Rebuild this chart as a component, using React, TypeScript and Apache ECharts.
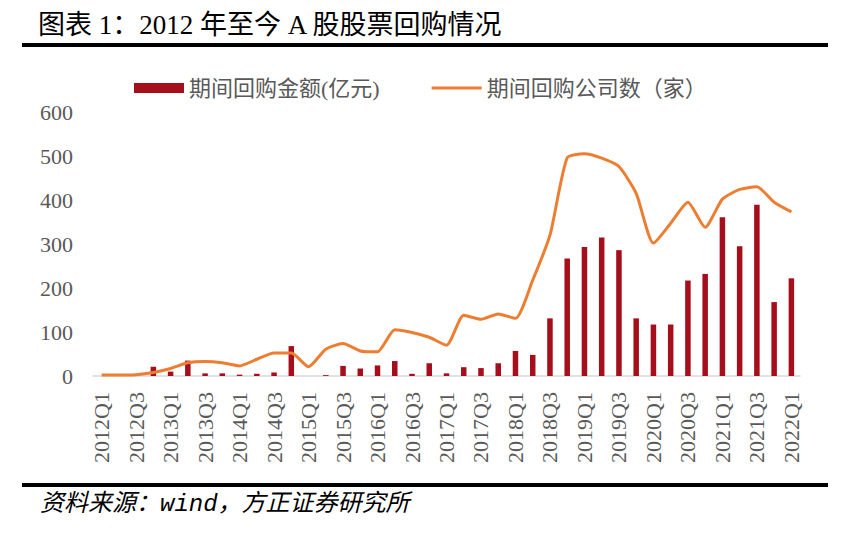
import React, { useEffect, useRef } from "react";
import * as echarts from "echarts";

const quarters = [
  "2012Q1","2012Q2","2012Q3","2012Q4",
  "2013Q1","2013Q2","2013Q3","2013Q4",
  "2014Q1","2014Q2","2014Q3","2014Q4",
  "2015Q1","2015Q2","2015Q3","2015Q4",
  "2016Q1","2016Q2","2016Q3","2016Q4",
  "2017Q1","2017Q2","2017Q3","2017Q4",
  "2018Q1","2018Q2","2018Q3","2018Q4",
  "2019Q1","2019Q2","2019Q3","2019Q4",
  "2020Q1","2020Q2","2020Q3","2020Q4",
  "2021Q1","2021Q2","2021Q3","2021Q4",
  "2022Q1",
];

const buybackAmount = [
  0, 0, 0, 21,
  10, 35, 6, 6,
  3, 5, 8, 68,
  0, 2, 23, 17,
  24, 34, 5, 29,
  6, 20, 18, 29,
  57, 48, 131, 267,
  293, 315, 286, 131,
  117, 117, 217, 232,
  361, 295, 389, 168,
  222,
];

const companyCount = [
  2, 2, 3, 8,
  17, 30, 33, 30,
  23, 38, 52, 52,
  21, 61, 74, 57,
  55, 105, 99, 88,
  70, 138, 129, 141,
  131, 218, 320, 496,
  505, 495, 476, 415,
  302, 347, 395, 338,
  402, 424, 430, 395,
  373,
];

const yTicks = { min: 0, max: 600, interval: 100 };

const titleText = "图表 1：2012 年至今 A 股股票回购情况";
const sourceText = "资料来源：wind，方正证券研究所";
const amountName = "期间回购金额(亿元)";
const countName = "期间回购公司数（家）";

const serif = "'Liberation Serif', 'Times New Roman', 'Noto Sans CJK SC', serif";
const gray = "#595959";

export default function App() {
  const ref = useRef<HTMLDivElement>(null);

  useEffect(() => {
    if (!ref.current) return;
    const chart = echarts.init(ref.current, undefined, { renderer: "svg" });
    chart.setOption({
      animation: false,
      backgroundColor: "#ffffff",
      grid: { left: 93, right: 42, top: 112, bottom: 164 },
      legend: {
        left: 129,
        top: 72,
        itemWidth: 50,
        itemHeight: 10,
        itemGap: 52,
        textStyle: { fontSize: 22, color: gray, fontFamily: serif },
        data: [
          { name: amountName, icon: "rect" },
          { name: countName, icon: "path://M0,0 L50,0 L50,3 L0,3 Z" },
        ],
      },
      xAxis: {
        type: "category",
        data: quarters,
        boundaryGap: true,
        axisLine: { show: true, lineStyle: { color: "#D9D9D9", width: 1.5 } },
        axisTick: { show: false },
        axisLabel: {
          interval: 1,
          rotate: 90,
          margin: 16,
          fontSize: 22,
          color: gray,
          fontFamily: serif,
        },
      },
      yAxis: {
        type: "value",
        min: yTicks.min,
        max: yTicks.max,
        interval: yTicks.interval,
        axisLine: { show: false },
        axisTick: { show: false },
        splitLine: { show: false },
        axisLabel: { margin: 20, fontSize: 22, color: gray, fontFamily: serif },
      },
      series: [
        {
          name: amountName,
          type: "bar",
          data: buybackAmount,
          barWidth: 5.5,
          itemStyle: { color: "#A50E1B" },
        },
        {
          name: countName,
          type: "line",
          data: companyCount,
          symbol: "none",
          smooth: 0.2,
          lineStyle: { color: "#ED7D31", width: 3 },
          itemStyle: { color: "#ED7D31" },
        },
      ],
      graphic: [
        {
          type: "text",
          left: 38,
          top: 11,
          style: {
            text: titleText,
            fontSize: 27,
            fontFamily: serif,
            fill: "#000000",
          },
        },
        {
          type: "rect",
          shape: { x: 22, y: 43, width: 806, height: 4 },
          style: { fill: "#000000" },
        },
        {
          type: "rect",
          shape: { x: 22, y: 483, width: 806, height: 4 },
          style: { fill: "#000000" },
        },
        {
          type: "text",
          left: 40,
          top: 492,
          style: {
            text: sourceText,
            fontSize: 24,
            fontStyle: "italic",
            fontFamily: "'Liberation Mono', 'DejaVu Sans Mono', 'Noto Sans CJK SC', monospace",
            fill: "#000000",
          },
        },
      ],
    });
    return () => chart.dispose();
  }, []);

  return (
    <div
      ref={ref}
      style={{ position: "fixed", left: 0, top: 0, width: 842, height: 540, background: "#fff" }}
    />
  );
}
